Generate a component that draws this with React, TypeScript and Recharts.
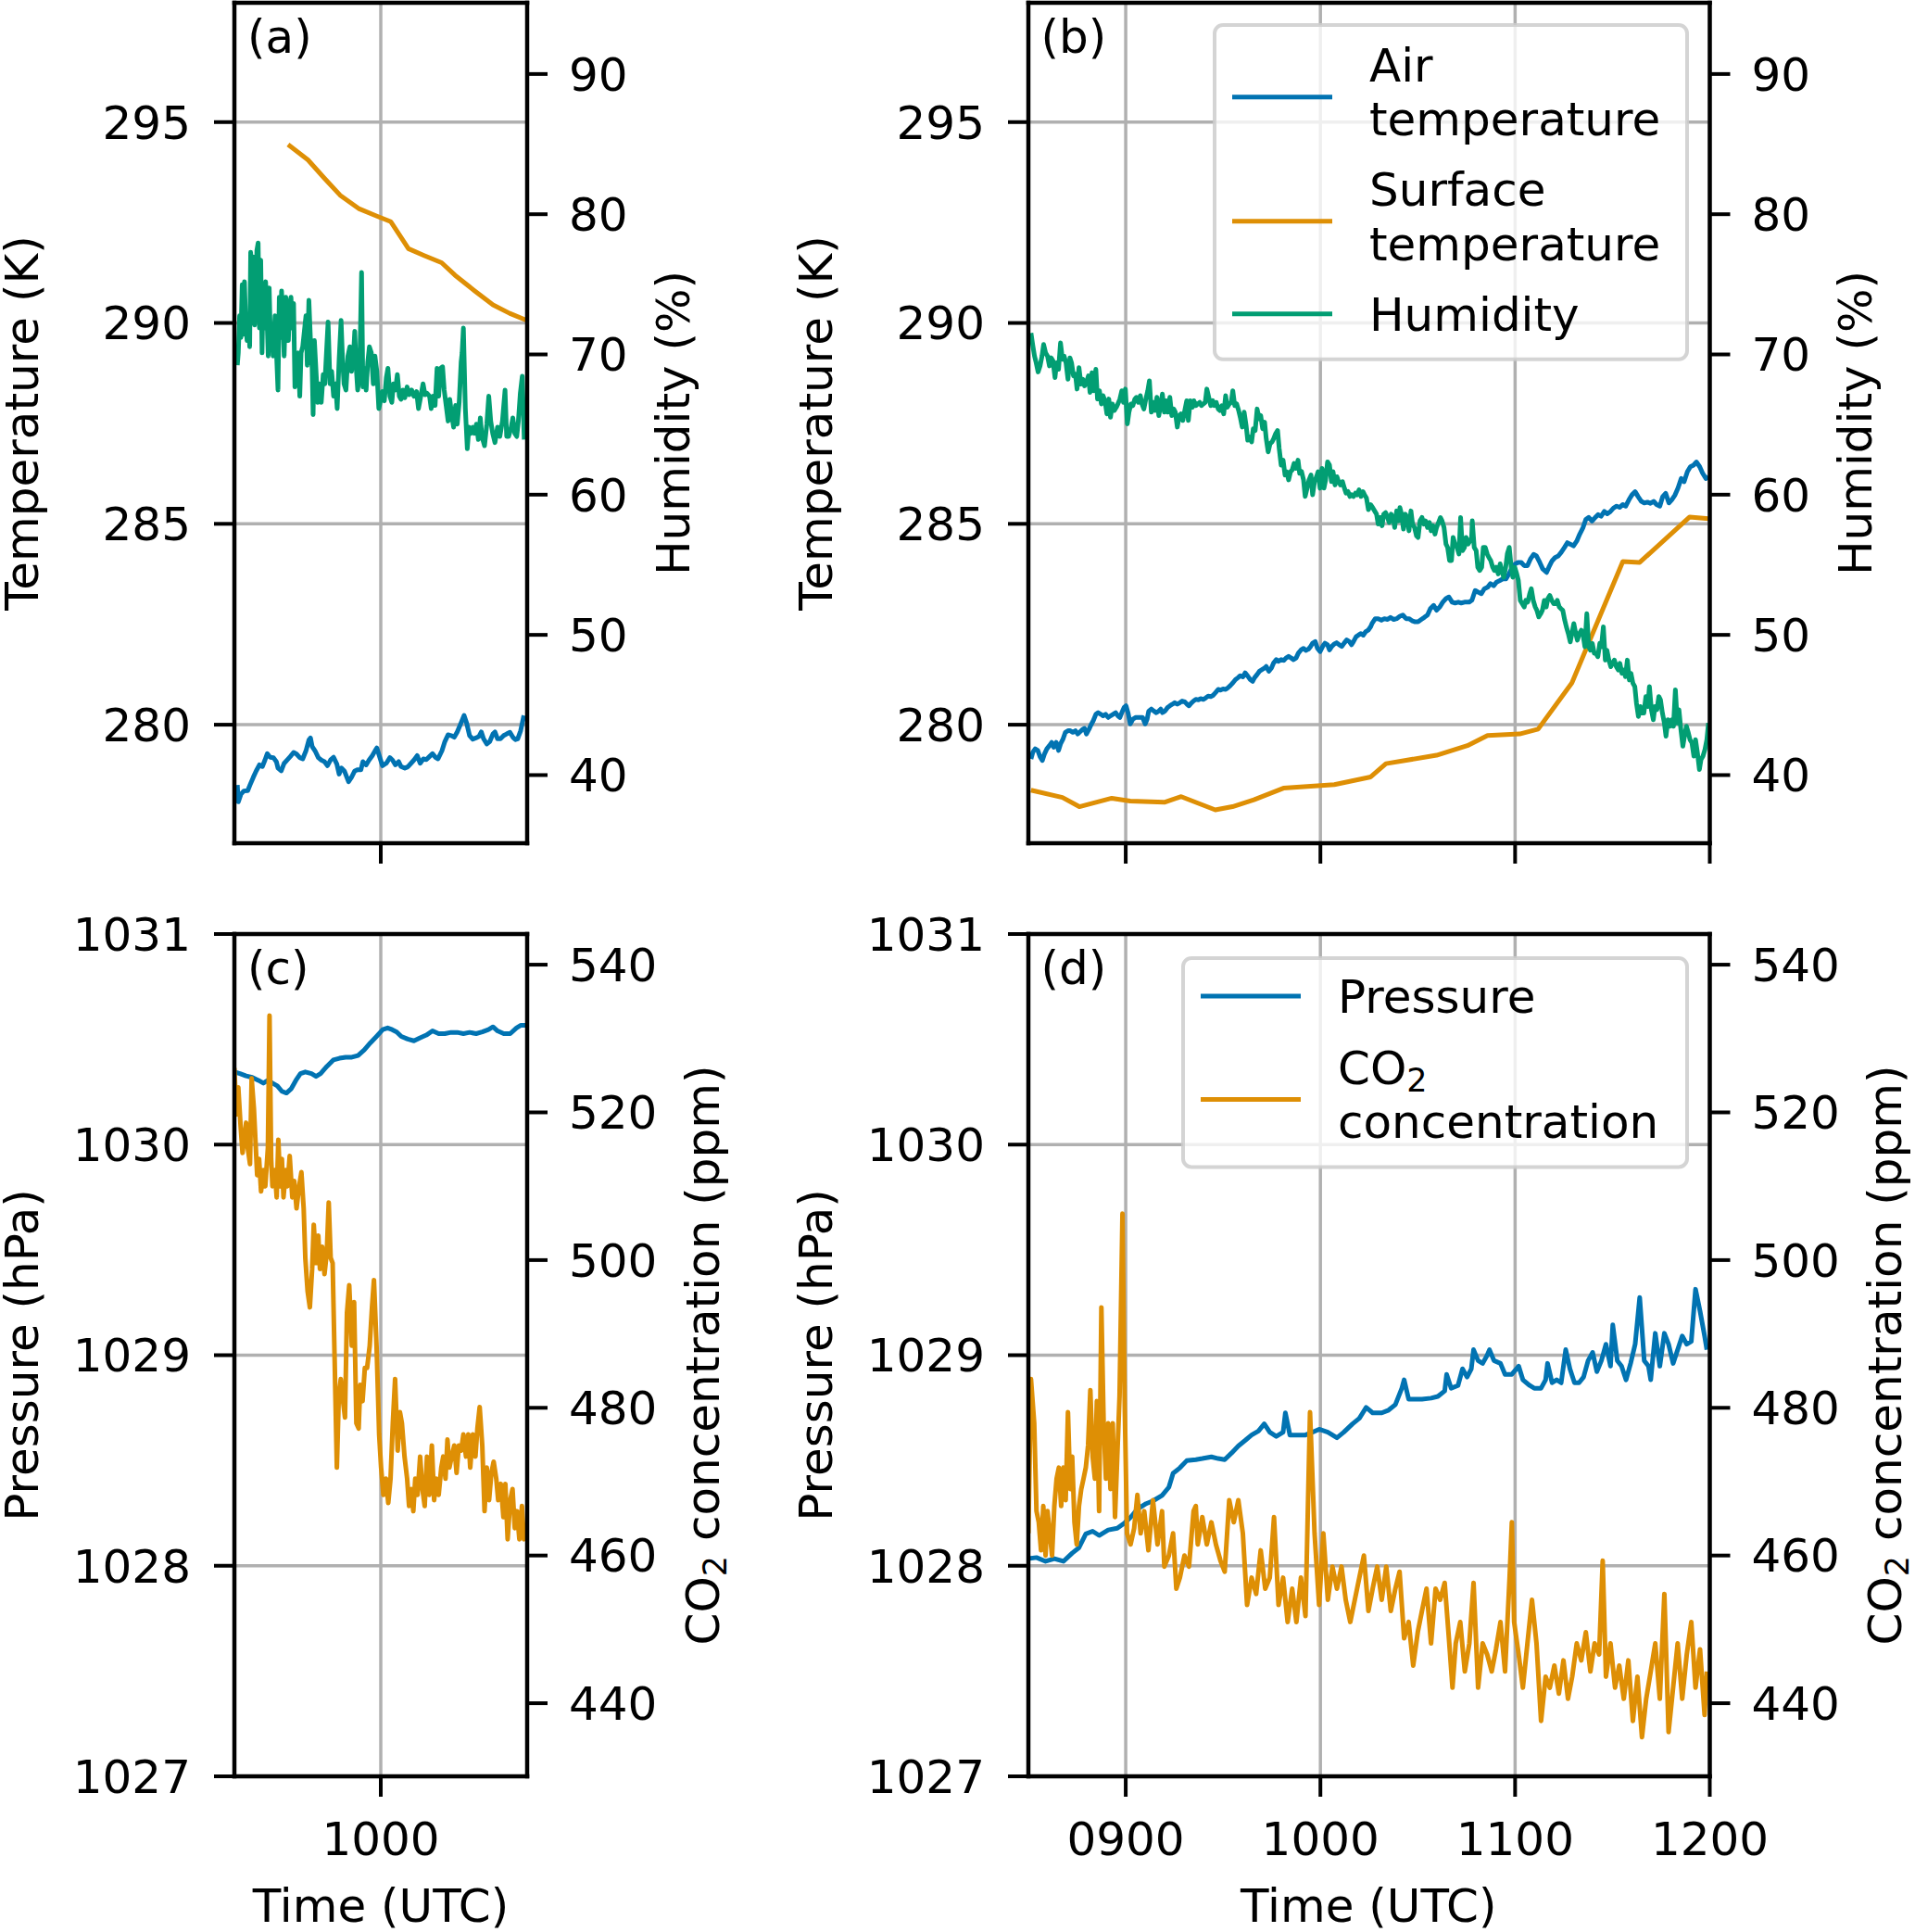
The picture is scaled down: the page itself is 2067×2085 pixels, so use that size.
import React from 'react';
import { LineChart, Line, XAxis, YAxis, CartesianGrid, ReferenceLine, Legend } from 'recharts';

const FONT = "'DejaVu Sans', 'Liberation Sans', sans-serif";
const BLUE = '#0173B2';
const ORANGE = '#DE8F05';
const GREEN = '#029E73';

// ---------- axis settings (time in minutes since midnight) ----------
const X_DOMAIN_LEFT = [555, 645];
const X_TICKS_LEFT = [600];
const X_DOMAIN_RIGHT = [510, 720];
const X_TICKS_RIGHT = [540, 600, 660, 720];
const TEMP_DOMAIN = [277.05, 297.97];
const TEMP_TICKS = [280, 285, 290, 295];
const HUM_DOMAIN = [35.14, 95.08];
const HUM_TICKS = [40, 50, 60, 70, 80, 90];
const PRES_DOMAIN = [1027, 1031];
const PRES_TICKS = [1027, 1028, 1029, 1030, 1031];
const CO2_DOMAIN = [430.1, 544.15];
const CO2_TICKS = [440, 460, 480, 500, 520, 540];

const LEGEND_B = [['Air', 'temperature'], ['Surface', 'temperature'], ['Humidity']];

// ---------- panel (a) ----------
const A_AIR_T = [
  555.9, 556.2, 557.0, 557.9, 559.1, 559.8, 560.8, 561.7, 562.7, 563.6,
  564.4, 565.1, 566.0, 567.0, 567.9, 568.4, 569.4, 570.3, 571.3, 572.2,
  573.2, 574.1, 575.1, 576.0, 577.0, 577.9, 578.4, 578.9, 579.8, 580.8,
  581.7, 582.7, 583.6, 584.6, 585.5, 586.5, 587.2, 587.9, 588.8, 590.1,
  591.0, 592.0, 592.9, 593.9, 594.5, 595.5, 596.4, 597.4, 598.3, 598.8,
  599.6, 600.5, 601.7, 602.8, 603.6, 604.5, 605.5, 606.2, 607.4, 608.3,
  609.3, 610.2, 611.2, 612.1, 613.1, 614.0, 615.0, 615.9, 616.9, 617.6,
  618.8, 619.7, 620.7, 621.6, 622.6, 623.5, 624.7, 625.6, 626.4, 627.3,
  628.3, 629.2, 630.2, 630.9, 631.6, 632.6, 633.5, 634.5, 635.1, 635.9,
  636.8, 637.8, 638.7, 639.7, 640.6, 641.4, 642.1, 643.0, 643.5, 644.0,
];
const A_AIR_V = [
  278.50, 278.08, 278.27, 278.35, 278.36, 278.50, 278.69, 278.85, 279.00, 278.96,
  279.12, 279.28, 279.19, 279.18, 279.08, 278.92, 278.85, 279.04, 279.13, 279.21,
  279.31, 279.27, 279.18, 279.15, 279.35, 279.62, 279.67, 279.46, 279.35, 279.18,
  279.12, 279.08, 278.98, 279.13, 279.19, 279.02, 278.77, 278.92, 278.85, 278.58,
  278.69, 278.85, 278.88, 278.88, 279.08, 279.00, 279.12, 279.23, 279.36, 279.42,
  279.21, 278.98, 279.04, 279.18, 279.12, 279.00, 279.08, 278.96, 278.92, 278.95,
  279.04, 279.12, 279.23, 279.04, 279.15, 279.13, 279.21, 279.28, 279.18, 279.15,
  279.35, 279.58, 279.75, 279.73, 279.69, 279.82, 280.05, 280.23, 280.04, 279.73,
  279.64, 279.67, 279.71, 279.82, 279.65, 279.52, 279.58, 279.77, 279.82, 279.65,
  279.65, 279.73, 279.77, 279.81, 279.69, 279.63, 279.65, 279.85, 280.04, 280.23,
];
const A_SURF_T = [571.5, 577.6, 582.7, 587.5, 593.4, 598.8, 603.1, 608.5, 613.3, 618.7, 622.8, 628.7, 634.5, 639.6, 644.7];
const A_SURF_V = [294.44, 294.06, 293.60, 293.18, 292.84, 292.66, 292.52, 291.85, 291.68, 291.50, 291.19, 290.81, 290.45, 290.24, 290.07];
const A_HUM_T = [
  555.9, 556.2, 556.6, 557.0, 557.4, 557.8, 558.1, 558.5, 558.9, 559.4,
  559.7, 560.0, 560.4, 560.8, 561.2, 561.6, 561.9, 562.3, 562.7, 563.1,
  563.5, 563.8, 564.2, 564.6, 565.0, 565.4, 565.7, 566.1, 566.5, 566.9,
  567.5, 567.9, 568.4, 568.8, 569.2, 569.5, 569.9, 570.3, 570.8, 571.3,
  571.6, 572.0, 572.4, 572.8, 573.2, 573.6, 574.1, 574.6, 575.1, 575.5,
  576.0, 576.5, 577.0, 577.4, 577.9, 578.4, 578.9, 579.2, 579.6, 580.0,
  580.6, 581.1, 581.7, 582.3, 582.8, 583.4, 583.8, 584.4, 584.9, 585.5,
  586.1, 586.6, 587.2, 587.8, 588.2, 588.7, 589.3, 589.9, 590.5, 591.0,
  591.6, 592.0, 592.4, 592.9, 593.5, 594.1, 594.5, 595.0, 595.5, 596.0,
  596.5, 597.1, 597.7, 598.2, 598.8, 599.4, 600.0, 600.5, 601.1, 601.7,
  602.2, 602.8, 603.4, 603.9, 604.5, 605.1, 605.7, 606.2, 606.8, 607.4,
  608.1, 608.8, 609.5, 610.2, 611.0, 611.6, 612.3, 613.0, 613.6, 614.2,
  615.0, 615.5, 616.1, 616.7, 617.3, 617.8, 618.4, 619.0, 619.5, 620.1,
  620.7, 621.2, 621.8, 622.4, 623.0, 623.5, 624.1, 624.7, 625.0, 625.4,
  626.0, 626.6, 627.1, 627.7, 628.3, 628.8, 629.4, 630.0, 630.6, 631.1,
  631.9, 632.6, 633.2, 633.8, 634.4, 635.1, 635.9, 636.6, 637.4, 638.2,
  638.7, 639.3, 640.1, 640.6, 641.2, 641.8, 642.3, 642.9, 643.5, 644.1,
];
const A_HUM_V = [
  69.23, 70.11, 72.76, 71.21, 74.97, 71.43, 75.19, 72.10, 70.99, 72.76,
  70.55, 77.28, 73.64, 76.95, 72.10, 73.64, 77.40, 77.95, 71.88, 76.73,
  70.11, 73.86, 71.88, 75.19, 72.76, 69.89, 74.75, 70.99, 72.10, 69.89,
  72.76, 70.33, 67.46, 74.08, 71.21, 74.53, 72.32, 69.89, 74.08, 72.32,
  70.99, 73.64, 74.08, 71.88, 73.64, 67.68, 69.45, 70.11, 67.02, 70.11,
  70.55, 71.66, 72.76, 69.23, 73.86, 70.99, 69.01, 65.70, 70.99, 69.23,
  66.58, 67.90, 66.58, 68.57, 67.90, 70.55, 72.32, 67.90, 68.79, 67.02,
  67.90, 66.14, 69.67, 72.43, 69.89, 67.90, 67.46, 69.89, 70.55, 68.79,
  69.89, 71.66, 69.23, 67.46, 68.79, 75.85, 67.68, 69.01, 67.46, 69.45,
  70.55, 70.11, 67.90, 69.89, 68.79, 66.14, 66.80, 67.35, 66.69, 68.34,
  69.01, 67.02, 66.58, 67.90, 67.46, 68.57, 67.02, 66.80, 67.46, 66.91,
  67.68, 67.13, 67.46, 67.02, 67.35, 66.14, 67.02, 67.90, 67.13, 67.24,
  67.02, 66.14, 67.02, 66.36, 69.01, 67.02, 69.01, 69.12, 67.46, 66.36,
  65.25, 66.80, 65.70, 64.81, 66.36, 65.03, 66.58, 69.45, 70.11, 71.88,
  66.14, 63.27, 64.81, 64.37, 64.81, 64.37, 65.03, 63.93, 65.47, 64.15,
  63.49, 65.03, 67.02, 65.25, 64.37, 63.71, 64.81, 64.15, 65.25, 67.46,
  64.15, 64.15, 64.81, 65.47, 64.37, 64.15, 65.25, 67.24, 68.45, 63.93,
];

// ---------- panel (b) ----------
const B_AIR_T = [
  510.8, 511.4, 512.1, 512.9, 513.6, 514.3, 515.0, 515.7, 516.5, 517.2,
  517.8, 518.6, 519.3, 519.9, 520.7, 521.4, 522.2, 522.9, 523.7, 524.5,
  525.2, 526.0, 526.8, 527.3, 527.9, 528.7, 529.2, 530.0, 530.8, 531.5,
  532.3, 533.0, 533.8, 534.6, 535.3, 536.1, 536.9, 537.6, 538.2, 538.8,
  539.5, 540.1, 540.7, 541.4, 542.2, 543.0, 543.7, 544.5, 545.2, 546.0,
  546.6, 547.1, 547.9, 548.7, 549.4, 550.2, 550.8, 551.3, 552.1, 552.9,
  553.6, 554.4, 555.1, 555.9, 556.7, 557.4, 558.2, 558.9, 559.5, 560.1,
  560.9, 561.6, 562.4, 563.1, 563.9, 564.7, 565.4, 566.2, 566.9, 567.7,
  568.5, 569.2, 570.0, 570.8, 571.5, 572.3, 573.0, 573.8, 574.6, 575.3,
  576.1, 576.8, 577.6, 578.4, 579.1, 579.7, 580.5, 581.2, 582.0, 582.8,
  583.3, 584.1, 584.9, 585.6, 586.4, 587.1, 587.9, 588.7, 589.4, 590.2,
  591.0, 591.7, 592.5, 593.2, 594.0, 594.8, 595.5, 596.3, 597.0, 597.6,
  598.4, 599.1, 599.9, 600.7, 601.4, 602.2, 602.8, 603.5, 604.3, 605.0,
  605.8, 606.6, 607.3, 608.1, 608.9, 609.6, 610.2, 611.0, 611.7, 612.5,
  613.2, 614.0, 614.8, 615.5,
  615.9, 616.9, 617.8, 618.8, 619.7, 620.7, 621.6, 622.6, 623.5, 624.5,
  625.4, 626.4, 627.3, 628.2, 629.2, 630.1, 631.1, 632.0, 633.0, 633.9,
  634.9, 635.8, 636.8, 637.7, 638.7, 639.6, 640.6, 641.5, 642.5, 643.4,
  644.4, 645.8, 646.7, 647.7, 648.6, 649.6, 650.5, 651.5, 652.4, 653.4,
  654.3, 655.3, 656.2, 657.2, 658.1, 659.1, 660.0, 660.9, 661.9, 662.8,
  663.8, 664.7, 665.7, 666.6, 667.6, 668.5, 669.7, 670.4, 671.4, 672.3,
  673.3, 674.2, 675.2, 676.1, 677.1, 678.0, 679.0, 679.9, 680.9, 681.8,
  682.7, 683.7, 684.6, 685.6, 686.5, 687.5, 688.4, 689.4, 690.3, 691.3,
  692.2, 693.2, 694.1, 695.1, 696.0, 697.0, 697.9, 698.9, 699.8, 700.8,
  701.7, 702.7, 703.6, 704.6, 705.5, 706.4, 707.4, 708.3, 709.3, 710.2,
  711.2, 712.1, 713.1, 714.0, 715.0, 715.9, 716.9, 717.8, 718.8, 719.6,
];
const B_AIR_V = [
  279.15, 279.32, 279.40, 279.36, 279.20, 279.11, 279.28, 279.40, 279.48, 279.56,
  279.44, 279.56, 279.36, 279.52, 279.65, 279.81, 279.85, 279.85, 279.81, 279.85,
  279.77, 279.83, 279.89, 279.91, 279.77, 279.89, 279.98, 280.10, 280.26, 280.30,
  280.26, 280.22, 280.26, 280.18, 280.22, 280.26, 280.30, 280.22, 280.18, 280.30,
  280.43, 280.47, 280.30, 280.02, 280.14, 280.18, 280.18, 280.18, 280.18, 280.02,
  280.14, 280.34, 280.39, 280.34, 280.30, 280.34, 280.39, 280.30, 280.34, 280.43,
  280.47, 280.51, 280.55, 280.51, 280.55, 280.59, 280.57, 280.51, 280.47, 280.53,
  280.59, 280.63, 280.62, 280.65, 280.63, 280.67, 280.71, 280.70, 280.73, 280.80,
  280.88, 280.86, 280.89, 280.88, 280.92, 280.98, 281.04, 281.12, 281.17, 281.22,
  281.19, 281.29, 281.21, 281.12, 281.08, 281.17, 281.25, 281.33, 281.37, 281.41,
  281.45, 281.33, 281.41, 281.54, 281.62, 281.58, 281.62, 281.60, 281.66, 281.70,
  281.66, 281.62, 281.66, 281.78, 281.86, 281.90, 281.85, 281.88, 281.95, 282.03,
  282.07, 281.90, 281.82, 281.95, 282.03, 281.99, 281.86, 281.95, 282.01, 282.04,
  281.99, 281.95, 282.03, 282.11, 282.07, 281.99, 282.07, 282.19, 282.23, 282.27,
  282.23, 282.32, 282.36, 282.44,
  282.52, 282.64, 282.64, 282.60, 282.64, 282.62, 282.67, 282.62, 282.64, 282.70,
  282.73, 282.64, 282.64, 282.59, 282.56, 282.56, 282.62, 282.67, 282.73, 282.89,
  282.97, 282.85, 282.93, 283.05, 283.14, 283.18, 283.05, 283.03, 283.05, 283.03,
  283.05, 283.05, 283.10, 283.34, 283.30, 283.26, 283.38, 283.42, 283.51, 283.46,
  283.55, 283.59, 283.63, 283.63, 283.75, 283.92, 284.00, 284.04, 284.04, 283.96,
  283.96, 284.12, 284.24, 284.20, 284.04, 283.88, 283.79, 283.92, 284.08, 284.16,
  284.20, 284.29, 284.41, 284.53, 284.49, 284.45, 284.57, 284.74, 284.90, 285.11,
  285.16, 285.07, 285.15, 285.23, 285.19, 285.31, 285.25, 285.31, 285.39, 285.44,
  285.41, 285.48, 285.44, 285.60, 285.72, 285.80, 285.68, 285.56, 285.52, 285.54,
  285.51, 285.56, 285.48, 285.44, 285.68, 285.76, 285.52, 285.60, 285.72, 285.89,
  286.13, 286.05, 286.30, 286.42, 286.46, 286.54, 286.42, 286.26, 286.13, 286.17,
];
const B_SURF_T = [510.8, 520.5, 525.7, 535.7, 541.4, 551.9, 557.1, 567.6, 572.9, 579.5, 588.6, 604.3, 615.5, 620.2, 635.8, 645.3, 651.5, 661.4, 667.1, 677.5, 693.2, 698.4, 713.8, 719.6];
const B_SURF_V = [278.37, 278.19, 277.96, 278.17, 278.10, 278.07, 278.21, 277.88, 277.96, 278.13, 278.42, 278.51, 278.70, 279.03, 279.24, 279.48, 279.73, 279.77, 279.89, 281.04, 284.06, 284.04, 285.17, 285.13];
const B_HUM_T = [
  510.8, 511.4, 511.9, 512.4, 513.0, 513.6, 514.2, 514.7, 515.3, 515.9,
  516.5, 517.0, 517.6, 518.2, 518.7, 519.3, 519.9, 520.5, 521.0, 521.6,
  522.2, 522.8, 523.3, 523.9, 524.5, 525.0, 525.6, 526.2, 526.8, 527.3,
  527.9, 528.5, 529.0, 529.6, 530.2, 530.8, 531.3, 531.9, 532.5, 533.0,
  533.6, 534.2, 534.8, 535.3, 535.9, 536.5, 537.1, 537.6, 538.2, 538.8,
  539.3, 539.9, 540.5, 541.0, 541.6, 542.2, 542.8, 543.3, 543.9, 544.5,
  545.0, 545.6, 546.2, 546.8, 547.3, 547.9, 548.5, 549.0, 549.6, 550.2,
  550.8, 551.3, 551.9, 552.5, 553.0, 553.6, 554.2, 554.8, 555.3, 555.9,
  556.5, 557.0, 557.6, 558.2, 558.8, 559.3, 559.9, 560.5, 561.0, 561.6,
  562.2, 562.8, 563.3, 563.9, 564.5, 565.0, 565.6, 566.2, 566.8, 567.3,
  567.9, 568.5, 569.0, 569.6, 570.2, 570.8, 571.3, 571.9, 572.5, 573.0,
  573.6, 574.2, 574.8, 575.3, 575.9, 576.5, 577.1, 577.6, 578.2, 578.8,
  579.3, 579.9, 580.5, 581.1, 581.6, 582.2, 582.8, 583.3, 583.9, 584.5,
  585.1, 585.6, 586.2, 586.8, 587.3, 587.9, 588.5, 589.1, 589.6, 590.2,
  590.8, 591.3, 591.9, 592.5, 593.1, 593.6, 594.2, 594.8, 595.3, 595.9,
  596.5, 597.1, 597.6, 598.2, 598.8, 599.3, 599.9, 600.5, 601.1, 601.6,
  602.2, 602.8, 603.4, 603.9, 604.5, 605.1, 605.6, 606.2, 606.8, 607.4,
  607.9, 608.5, 609.1, 609.6, 610.2, 610.8, 611.3, 611.9, 612.5, 613.1,
  613.6, 614.2, 614.8, 615.5,
  616.1, 616.7, 617.3, 617.8, 618.4, 619.0, 619.5, 620.1, 620.7, 621.2,
  621.8, 622.4, 622.9, 623.5, 624.1, 624.5, 625.0, 625.6, 626.2, 626.7,
  627.3, 627.9, 628.4, 629.0, 629.6, 630.1, 630.7, 631.3, 631.9, 632.4,
  633.0, 633.6, 634.1, 634.7, 635.3, 635.8, 636.4, 637.0, 637.5, 638.1,
  638.7, 639.2, 639.8, 640.4, 640.9, 641.5, 642.1, 642.7, 643.2, 643.8,
  644.4, 644.9, 645.5, 646.1, 646.6, 646.8, 647.4, 648.0, 648.5, 649.1,
  649.7, 650.2, 650.8, 651.4, 651.9, 652.5, 653.1, 653.6, 654.2, 654.8,
  655.4, 655.9, 656.5, 657.1, 657.6, 658.2, 658.8, 659.3, 659.9, 660.5,
  661.0, 661.6, 662.2, 662.8, 663.3, 663.9, 664.5, 665.0, 665.6, 666.2,
  666.7, 667.3, 667.9, 668.4, 669.0, 669.6, 670.1, 670.7, 671.3, 671.9,
  672.4, 673.0, 673.6, 674.1, 674.7, 675.3, 675.8, 676.4, 677.0, 677.5,
  678.1, 678.7, 679.2, 679.8, 680.4, 680.9, 681.5, 682.1, 682.7, 683.2,
  683.8, 684.4, 684.9, 685.5, 686.1, 686.6, 687.2, 687.8, 688.3, 688.9,
  689.5, 690.0, 690.6, 691.2, 691.8, 692.3, 692.9, 693.5, 694.0, 694.6,
  695.2, 695.7, 696.3, 696.9, 697.4, 698.0, 698.6, 699.2, 699.7, 700.3,
  700.9, 701.4, 702.0, 702.6, 703.1, 703.7, 704.3, 704.8, 705.4, 706.0,
  706.5, 707.1, 707.7, 708.3, 708.8, 709.4, 710.0, 710.5, 711.1, 711.7,
  712.2, 712.8, 713.4, 713.9, 714.5, 715.1, 715.6, 716.2, 716.8, 717.3,
  717.9, 718.5, 719.1, 719.6,
];
const B_HUM_V = [
  71.53, 70.59, 69.88, 69.41, 68.75, 69.18, 69.88, 70.71, 70.12, 69.88,
  69.18, 69.76, 69.53, 68.35, 69.41, 68.94, 70.82, 69.65, 69.88, 69.41,
  68.23, 69.76, 69.41, 68.47, 68.59, 67.53, 69.06, 67.88, 68.23, 67.76,
  68.00, 68.47, 67.29, 68.70, 67.41, 68.94, 66.82, 67.41, 66.47, 67.06,
  66.70, 65.76, 66.82, 65.52, 66.47, 66.00, 66.23, 66.47, 66.82, 67.41,
  66.58, 67.53, 65.05, 65.88, 66.47, 66.35, 66.82, 66.94, 66.58, 67.06,
  66.47, 66.11, 66.82, 67.41, 68.12, 65.88, 66.58, 66.00, 66.94, 65.64,
  66.47, 67.17, 65.88, 66.70, 65.88, 66.94, 65.64, 66.11, 65.88, 64.82,
  65.64, 65.76, 65.29, 66.00, 66.70, 65.29, 66.70, 66.23, 66.70, 66.35,
  66.47, 66.58, 66.35, 66.47, 66.58, 67.53, 66.94, 66.35, 66.70, 66.35,
  66.58, 66.11, 66.00, 66.35, 65.76, 67.06, 66.23, 66.47, 66.58, 67.41,
  66.35, 66.47, 66.00, 65.52, 64.82, 65.88, 64.94, 63.88, 64.11, 63.76,
  64.70, 64.58, 66.11, 65.41, 65.64, 64.70, 65.17, 63.99, 63.05, 63.64,
  63.76, 63.99, 64.35, 64.58, 63.29, 62.11, 62.46, 61.40, 61.64, 61.05,
  61.64, 61.76, 62.23, 61.87, 62.46, 61.52, 61.64, 61.05, 59.87, 60.46,
  61.05, 61.40, 59.99, 60.93, 61.28, 61.64, 60.46, 61.87, 60.46, 61.05,
  62.34, 62.11, 60.93, 61.64, 60.69, 61.28, 60.93, 60.69, 60.93, 60.46,
  60.11, 60.22, 59.87, 59.99, 59.87, 60.11, 59.99, 60.34, 59.87, 60.22,
  59.99, 59.75, 58.93, 59.28,
  59.08, 58.84, 58.61, 57.90, 58.37, 57.78, 58.61, 58.72, 58.37, 58.01,
  58.61, 58.37, 57.66, 58.84, 58.13, 59.08, 58.61, 57.54, 58.61, 58.37,
  57.42, 58.84, 57.90, 57.66, 57.07, 56.95, 58.13, 58.37, 57.90, 58.13,
  57.66, 58.01, 57.42, 57.78, 57.19, 57.66, 58.01, 58.37, 58.13, 57.66,
  56.48, 56.24, 55.30, 55.30, 56.95, 56.48, 56.24, 55.77, 58.37, 56.00,
  56.24, 56.95, 56.48, 56.71, 56.95, 58.13, 56.24, 56.00, 54.82, 54.59,
  54.82, 56.24, 56.24, 55.77, 55.53, 55.30, 54.82, 54.59, 54.82, 54.35,
  55.06, 54.59, 54.11, 54.82, 55.77, 56.24, 54.82, 54.11, 54.82, 54.35,
  53.88, 52.46, 52.22, 51.99, 52.46, 52.34, 52.93, 53.29, 52.46, 51.99,
  51.75, 51.28, 51.51, 51.75, 52.46, 51.99, 52.58, 52.81, 52.46, 52.22,
  52.22, 52.46, 51.99, 51.87, 51.75, 51.04, 50.57, 50.09, 49.50, 50.09,
  50.80, 50.09, 49.62, 50.09, 50.33, 50.09, 49.15, 51.51, 49.15, 48.91,
  49.39, 48.68, 48.68, 48.44, 49.39, 49.15, 50.57, 48.20, 48.91, 48.20,
  47.73, 47.97, 48.20, 47.73, 47.49, 47.97, 47.26, 47.49, 47.02, 48.20,
  46.78, 47.26, 46.55, 46.31, 45.13, 44.18, 44.89, 44.42, 44.42, 45.60,
  44.89, 46.31, 44.66, 43.95, 44.89, 44.66, 45.60, 45.37, 44.42, 43.71,
  42.77, 43.95, 43.48, 43.95, 43.48, 46.08, 43.71, 44.66, 43.24, 42.06,
  42.77, 43.48, 43.00, 42.53, 42.29, 41.35, 42.53, 41.58, 40.40, 41.11,
  41.35, 41.82, 42.53, 43.71,
];

// ---------- panel (c) ----------
const C_PRES_T = [
  555.0, 556.7, 558.6, 560.5, 562.4, 563.9, 565.3, 566.7, 568.2, 569.6,
  571.0, 572.5, 573.9, 575.3, 576.8, 578.7, 580.1, 581.5, 583.4, 585.4,
  587.3, 589.2, 591.1, 593.0, 594.9, 596.8, 598.7, 600.6, 602.1, 603.5,
  604.9, 606.3, 608.3, 610.2, 612.1, 614.0, 615.9, 617.8, 619.7, 621.6,
  623.5, 625.4, 627.3, 629.3, 631.2, 633.1, 634.5, 635.9, 637.8, 639.8,
  641.7, 643.1, 645.0,
];
const C_PRES_V = [
  1030.345, 1030.337, 1030.326, 1030.319, 1030.305, 1030.292, 1030.305, 1030.292, 1030.279, 1030.253,
  1030.245, 1030.266, 1030.305, 1030.337, 1030.345, 1030.337, 1030.324, 1030.337, 1030.371, 1030.402,
  1030.410, 1030.415, 1030.415, 1030.423, 1030.449, 1030.483, 1030.514, 1030.546, 1030.554, 1030.546,
  1030.535, 1030.514, 1030.501, 1030.493, 1030.507, 1030.520, 1030.540, 1030.527, 1030.527, 1030.533,
  1030.533, 1030.527, 1030.533, 1030.527, 1030.535, 1030.546, 1030.559, 1030.540, 1030.527, 1030.527,
  1030.554, 1030.567, 1030.567,
];
const C_CO2_T = [
  555.0, 555.6, 556.2, 556.9, 557.5, 558.1, 558.6, 559.1, 559.8, 560.3,
  561.0, 561.5, 562.0, 562.6, 563.2, 563.9, 564.5, 565.3, 565.8, 566.3,
  566.7, 567.4, 568.0, 568.5, 569.1, 569.6, 570.1, 570.8, 571.3, 572.0,
  572.8, 573.4, 574.1, 574.9, 575.6, 576.3, 576.8, 577.5, 578.2, 578.9,
  579.4, 580.1, 580.8, 581.3, 582.0, 582.7, 583.4, 584.0, 584.6, 585.2,
  585.8, 586.5, 587.1, 587.7, 588.4, 589.0, 589.6, 590.3, 591.1, 591.8,
  592.5, 593.2, 593.7, 594.4, 595.1, 595.8, 596.6, 597.3, 597.9, 598.7,
  599.5, 600.1, 600.8, 601.6, 602.3, 603.0, 603.7, 604.4, 605.2, 605.9,
  606.5, 607.3, 608.1, 608.7, 609.4, 610.0, 610.6, 611.3, 612.1, 612.8,
  613.5, 614.2, 614.9, 615.7, 616.4, 617.0, 617.8, 618.6, 619.2, 619.9,
  620.5, 621.1, 621.8, 622.6, 623.3, 624.0, 624.7, 625.4, 626.2, 626.9,
  627.5, 628.3, 629.1, 629.7, 630.4, 631.2, 631.9, 632.6, 633.3, 634.0,
  634.7, 635.5, 636.1, 636.9, 637.7, 638.3, 639.0, 639.8, 640.5, 641.2,
  641.9, 642.6, 643.4, 644.0, 645.0,
];
const C_CO2_V = [
  526.0, 519.7, 523.4, 518.2, 514.5, 516.7, 518.6, 515.2, 513.0, 524.6,
  520.5, 516.0, 511.5, 513.7, 509.3, 512.2, 510.0, 515.2, 533.1, 513.7,
  510.0, 512.2, 508.5, 516.3, 510.0, 513.7, 508.5, 512.2, 510.0, 514.1,
  508.5, 510.7, 507.0, 510.0, 511.9, 507.0, 500.3, 495.8, 493.6, 498.8,
  504.8, 499.6, 503.3, 498.8, 501.8, 498.1, 501.0, 507.8, 500.3, 499.6,
  486.9, 471.9, 481.6, 483.9, 480.9, 478.7, 492.8, 496.6, 488.4, 494.3,
  477.9, 477.2, 483.1, 480.9, 485.4, 485.4, 488.4, 493.6, 497.3, 488.4,
  476.4, 471.9, 468.2, 470.4, 467.1, 470.4, 477.9, 483.9, 474.2, 479.4,
  477.9, 473.4, 470.4, 466.7, 469.0, 466.0, 470.4, 468.2, 473.4, 469.0,
  466.7, 473.4, 468.2, 474.9, 467.5, 470.4, 468.2, 471.9, 473.4, 470.4,
  475.7, 471.9, 473.4, 474.9, 471.2, 474.9, 474.2, 476.4, 473.4, 476.4,
  471.9, 476.4, 473.4, 477.2, 480.1, 474.9, 466.0, 471.9, 467.5, 471.2,
  472.7, 470.4, 467.5, 469.7, 465.2, 469.7, 462.2, 467.5, 469.0, 463.7,
  466.0, 462.2, 466.7, 462.2, 463.7,
];

// ---------- panel (d) ----------
const D_PRES_T = [
  510.0, 512.5, 515.3, 518.0, 520.8, 523.5, 525.6, 527.7, 529.8, 531.8,
  534.6, 537.4, 539.7, 541.5, 543.6, 546.3, 548.4, 551.2, 553.3, 554.6,
  556.7, 558.8, 561.6, 563.6, 566.4, 568.5, 570.5, 572.6, 574.7, 576.8,
  578.8, 580.9, 582.7, 584.4, 586.4, 588.5, 589.2, 590.6, 592.6, 595.4,
  597.5, 599.6, 602.3, 605.1, 607.2, 609.9, 612.0, 614.1, 616.1, 618.9,
  621.0, 623.1, 625.1, 625.8, 627.2, 629.3, 631.3, 634.1, 636.2, 638.3,
  638.9, 640.3, 642.4, 643.8, 645.2, 646.5, 647.2, 648.6, 650.0, 651.4,
  652.1, 653.5, 655.5, 656.9, 659.0, 661.1, 662.4, 664.5, 665.9, 668.0,
  669.4, 670.0, 671.4, 672.8, 674.2, 675.6, 676.9, 678.3, 679.7, 681.1,
  682.5, 683.9, 685.2, 686.6, 688.0, 689.4, 690.1, 691.5, 692.8, 694.2,
  695.6, 697.0, 698.4, 699.8, 701.1, 701.8, 703.2, 704.6, 706.0, 707.3,
  708.7, 710.1, 711.5, 712.9, 714.3, 715.6, 717.0, 718.4, 719.1,
];
const D_PRES_V = [
  1028.034, 1028.039, 1028.021, 1028.034, 1028.021, 1028.060, 1028.086, 1028.151, 1028.164, 1028.144,
  1028.170, 1028.178, 1028.204, 1028.230, 1028.269, 1028.295, 1028.308, 1028.334, 1028.373, 1028.439,
  1028.465, 1028.499, 1028.504, 1028.509, 1028.517, 1028.509, 1028.504, 1028.535, 1028.569, 1028.595,
  1028.621, 1028.640, 1028.674, 1028.634, 1028.614, 1028.634, 1028.726, 1028.621, 1028.621, 1028.621,
  1028.634, 1028.648, 1028.634, 1028.608, 1028.634, 1028.674, 1028.700, 1028.752, 1028.726, 1028.726,
  1028.739, 1028.765, 1028.843, 1028.883, 1028.791, 1028.791, 1028.791, 1028.796, 1028.804, 1028.830,
  1028.909, 1028.843, 1028.856, 1028.935, 1028.896, 1028.935, 1029.026, 1028.974, 1028.961, 1029.000,
  1029.026, 1028.974, 1028.961, 1028.909, 1028.909, 1028.948, 1028.883, 1028.856, 1028.843, 1028.843,
  1028.883, 1028.961, 1028.869, 1028.883, 1028.869, 1029.026, 1028.935, 1028.869, 1028.869, 1028.896,
  1028.974, 1029.013, 1028.922, 1028.974, 1029.052, 1028.948, 1029.144, 1028.974, 1028.948, 1028.883,
  1028.961, 1029.052, 1029.274, 1028.974, 1028.948, 1028.883, 1029.104, 1028.948, 1029.104, 1029.052,
  1028.961, 1029.026, 1029.091, 1029.052, 1029.065, 1029.313, 1029.209, 1029.091, 1029.026,
];
const D_CO2_T = [
  510.0, 510.8, 511.8, 512.5, 513.2, 513.9, 514.6, 515.3, 515.9, 516.6,
  517.3, 518.0, 518.7, 519.4, 520.1, 520.8, 521.5, 522.2, 522.9, 523.5,
  524.2, 524.9, 525.6, 526.3, 527.0, 527.7, 528.4, 529.1, 529.8, 530.5,
  531.1, 531.8, 532.5, 533.2, 533.9, 534.6, 535.3, 536.0, 536.7, 537.4,
  538.1, 539.0, 539.7, 540.4, 541.5, 542.6, 543.6, 544.6, 545.7, 547.0,
  548.4, 549.8, 551.2, 551.9, 553.3, 554.6, 555.6, 556.7, 558.1, 559.5,
  560.9, 561.6, 562.2, 563.6, 565.0, 566.4, 567.8, 569.2, 570.5, 571.9,
  573.3, 574.7, 576.1, 577.4, 578.8, 580.2, 581.6, 583.0, 584.4, 585.7,
  587.1, 588.5, 589.9, 591.3, 592.6, 594.0, 595.4, 596.8, 598.2, 599.6,
  600.9, 602.3, 603.7, 605.1, 606.5, 607.8, 609.2, 610.6, 612.0, 613.4,
  614.8, 616.1, 617.5, 618.9, 620.3, 621.7, 623.1, 624.4, 625.8, 627.2,
  628.6, 630.0, 631.3, 632.7, 634.1, 635.5, 636.9, 638.3, 639.6, 640.7,
  641.7, 643.1, 644.5, 645.9, 647.2, 648.6, 650.0, 651.4, 652.8, 654.1,
  655.5, 656.9, 658.3, 659.0, 659.7, 661.1, 662.4, 663.8, 665.2, 666.6,
  668.0, 669.4, 670.7, 672.1, 673.5, 674.9, 676.3, 677.6, 679.0, 680.4,
  681.8, 683.2, 684.5, 685.9, 687.0, 688.0, 689.4, 690.8, 692.1, 693.5,
  694.9, 696.3, 697.7, 699.1, 700.4, 701.8, 703.2, 704.6, 706.0, 707.3,
  708.7, 710.1, 711.5, 712.9, 714.3, 715.6, 717.0, 718.4, 719.1,
];
const D_CO2_V = [
  463.0, 483.9, 477.9, 466.0, 464.5, 460.7, 466.7, 460.0, 466.0, 463.0,
  460.0, 466.7, 470.4, 471.9, 466.7, 471.9, 467.5, 479.4, 469.0, 473.4,
  464.5, 461.5, 466.7, 469.0, 470.4, 471.9, 474.9, 482.4, 473.4, 470.4,
  480.9, 466.0, 493.6, 477.9, 470.4, 477.9, 469.0, 477.9, 465.2, 473.4,
  481.6, 506.3, 480.1, 463.0, 461.5, 463.7, 468.2, 463.0, 466.0, 460.7,
  467.5, 461.5, 466.0, 458.5, 460.0, 463.0, 455.5, 457.0, 460.0, 458.5,
  466.0, 466.7, 461.5, 465.2, 461.5, 464.5, 461.5, 459.3, 457.8, 467.5,
  464.5, 467.5, 463.0, 453.3, 457.0, 454.8, 460.7, 455.5, 457.0, 465.2,
  453.3, 457.0, 451.0, 455.5, 451.0, 457.0, 451.8, 479.4, 463.0, 453.3,
  463.0, 454.0, 458.5, 455.5, 458.5, 454.0, 451.0, 454.0, 457.0, 460.0,
  452.5, 455.5, 458.5, 454.0, 458.5, 452.5, 455.5, 457.8, 448.8, 451.0,
  445.1, 449.6, 452.5, 455.5, 448.1, 455.5, 454.0, 456.3, 448.8, 442.1,
  448.1, 451.0, 444.3, 448.1, 456.3, 442.1, 448.1, 446.6, 444.3, 447.3,
  451.0, 444.3, 457.0, 464.5, 451.0, 446.6, 442.1, 448.1, 454.0, 448.1,
  437.6, 443.6, 442.1, 445.1, 441.3, 445.8, 440.6, 443.6, 448.1, 445.8,
  449.6, 444.3, 448.1, 446.6, 459.3, 443.6, 448.1, 442.1, 445.1, 440.6,
  445.8, 437.6, 443.6, 435.4, 440.6, 444.3, 448.1, 440.6, 454.8, 436.1,
  442.1, 448.1, 440.6, 446.6, 451.0, 442.1, 447.3, 438.4, 444.3,
];

// ---------- helpers ----------
type Pt = { t: number; v: number };
const zip = (t: number[], v: number[]): Pt[] => {
  const n = Math.min(t.length, v.length);
  const out: Pt[] = [];
  for (let i = 0; i < n; i++) out.push({ t: t[i], v: v[i] });
  return out;
};
const hhmm = (m: number) => {
  const h = Math.floor(m / 60 + 1e-9);
  const mm = Math.round(m - h * 60);
  return String(h).padStart(2, '0') + String(mm).padStart(2, '0');
};

// ---------- layout (pixels) ----------
const COLS = { L: { x0: 253, x1: 569 }, R: { x0: 1109.5, x1: 1845 } };
const ROWS = { T: { y0: 3, y1: 910 }, B: { y0: 1008, y1: 1917 } };
const AXW = 230;
const XH = 110;
const SPINE = 4.5;
const LW = 5;

const tickStyle = { fontSize: 50, fontFamily: FONT, fill: '#000' };

type Series = { data: Pt[]; color: string; axis: 'left' | 'right'; name: string };

type LegendItem = { color: string; lines: React.ReactNode[]; y: number; baselines: number[] };

function LegendBox({ w, h, items }: { w: number; h: number; items: LegendItem[] }) {
  const P = 4;
  return (
    <svg width={w + 2 * P} height={h + 2 * P} style={{ display: 'block', overflow: 'visible' }}>
      <rect x={P} y={P} width={w} height={h} rx={9} ry={9} fill="#ffffff" fillOpacity={0.8}
        stroke="#cccccc" strokeOpacity={0.85} strokeWidth={4} />
      {items.map((it, i) => (
        <g key={i}>
          <line x1={P + 19} x2={P + 127} y1={P + it.y} y2={P + it.y} stroke={it.color} strokeWidth={LW} />
          {it.lines.map((ln, j) => (
            <text key={j} x={P + 167} y={P + it.baselines[j]} fontSize={50} fontFamily={FONT} fill="#000">{ln}</text>
          ))}
        </g>
      ))}
    </svg>
  );
}

type PanelProps = {
  col: { x0: number; x1: number };
  row: { y0: number; y1: number };
  xDomain: number[];
  xTicks: number[];
  showX: boolean;
  lDomain: number[];
  lTicks: number[];
  rDomain: number[];
  rTicks: number[];
  series: Series[];
  legend?: { x: number; y: number; w: number; h: number; items: LegendItem[] };
};

function Panel({ col, row, xDomain, xTicks, showX, lDomain, lTicks, rDomain, rTicks, series, legend }: PanelProps) {
  const mt = Math.min(45, row.y0);
  const top = row.y0 - mt;
  const left = col.x0 - AXW - 10;
  const width = col.x1 + AXW + 10 - left;
  const height = row.y1 + XH + 10 - top;
  const axisLine = { stroke: '#000', strokeWidth: SPINE, strokeLinecap: 'square' as const };
  const tickLine = { stroke: '#000', strokeWidth: 4 };
  return (
    <div style={{ position: 'absolute', left, top, width, height }}>
      <LineChart width={width} height={height} margin={{ top: mt, left: 10, right: 10, bottom: 10 }}>
        <CartesianGrid xAxisId={0} yAxisId="left" stroke="#b0b0b0" strokeWidth={3.5} />
        <XAxis xAxisId={0} dataKey="t" type="number" domain={xDomain} ticks={xTicks} interval={0}
          allowDataOverflow height={XH} tickSize={22} tickMargin={27}
          tickFormatter={(v: number) => (showX ? hhmm(v) : '')}
          tick={tickStyle} axisLine={axisLine} tickLine={tickLine} />
        <YAxis yAxisId="left" type="number" domain={lDomain} ticks={lTicks} interval={0}
          allowDataOverflow width={AXW} tickSize={22} tickMargin={25}
          tick={tickStyle} axisLine={axisLine} tickLine={tickLine} />
        <YAxis yAxisId="right" orientation="right" type="number" domain={rDomain} ticks={rTicks} interval={0}
          allowDataOverflow width={AXW} tickSize={22} tickMargin={23}
          tick={tickStyle} axisLine={axisLine} tickLine={tickLine} />
        {series.map((s) => (
          <Line key={s.name} name={s.name} data={s.data} dataKey="v" xAxisId={0} yAxisId={s.axis}
            type="linear" stroke={s.color} strokeWidth={LW} dot={false} activeDot={false}
            isAnimationActive={false} strokeLinejoin="round" />
        ))}
        <ReferenceLine xAxisId={0} yAxisId="left" y={lDomain[1]} stroke="#000" strokeWidth={SPINE} strokeLinecap="square" />
        {legend && (
          <Legend layout="vertical" align="center" verticalAlign="middle"
            wrapperStyle={{ position: 'absolute', left: legend.x - 4 - left, top: legend.y - 4 - top, width: legend.w + 8, height: legend.h + 8, lineHeight: 0 }}
            content={() => <LegendBox w={legend.w} h={legend.h} items={legend.items} />} />
        )}
      </LineChart>
    </div>
  );
}

function Sub2() {
  return <tspan fontSize={35} dy={8}>2</tspan>;
}

export default function App() {
  const aSeries: Series[] = [
    { name: 'Air temperature', data: zip(A_AIR_T, A_AIR_V), color: BLUE, axis: 'left' },
    { name: 'Surface temperature', data: zip(A_SURF_T, A_SURF_V), color: ORANGE, axis: 'left' },
    { name: 'Humidity', data: zip(A_HUM_T, A_HUM_V), color: GREEN, axis: 'right' },
  ];
  const bSeries: Series[] = [
    { name: 'Air temperature', data: zip(B_AIR_T, B_AIR_V), color: BLUE, axis: 'left' },
    { name: 'Surface temperature', data: zip(B_SURF_T, B_SURF_V), color: ORANGE, axis: 'left' },
    { name: 'Humidity', data: zip(B_HUM_T, B_HUM_V), color: GREEN, axis: 'right' },
  ];
  const cSeries: Series[] = [
    { name: 'Pressure', data: zip(C_PRES_T, C_PRES_V), color: BLUE, axis: 'left' },
    { name: 'CO2 concentration', data: zip(C_CO2_T, C_CO2_V), color: ORANGE, axis: 'right' },
  ];
  const dSeries: Series[] = [
    { name: 'Pressure', data: zip(D_PRES_T, D_PRES_V), color: BLUE, axis: 'left' },
    { name: 'CO2 concentration', data: zip(D_CO2_T, D_CO2_V), color: ORANGE, axis: 'right' },
  ];

  const legendB = {
    x: 1311, y: 27.3, w: 510, h: 360.7,
    items: [
      { color: BLUE, lines: LEGEND_B[0], y: 77.7, baselines: [61, 119.4] },
      { color: ORANGE, lines: LEGEND_B[1], y: 211.7, baselines: [195.4, 253.7] },
      { color: GREEN, lines: LEGEND_B[2], y: 311.7, baselines: [330] },
    ],
  };
  const legendD = {
    x: 1277, y: 1034.4, w: 544, h: 225.4,
    items: [
      { color: BLUE, lines: ['Pressure'], y: 40.9, baselines: [59.3] },
      { color: ORANGE, lines: [<>CO<Sub2 /></>, 'concentration'], y: 152.4, baselines: [136.4, 193.9] },
    ],
  };

  const yMidT = (ROWS.T.y0 + ROWS.T.y1) / 2;
  const yMidB = (ROWS.B.y0 + ROWS.B.y1) / 2;
  const txt = { fontSize: 50, fontFamily: FONT, fill: '#000' };

  return (
    <div style={{ position: 'relative', width: 2067, height: 2085, background: '#fff', overflow: 'hidden', fontFamily: FONT }}>
      <style>{'body{margin:0;background:#fff;}'}</style>
      <Panel col={COLS.L} row={ROWS.T} xDomain={X_DOMAIN_LEFT} xTicks={X_TICKS_LEFT} showX={false}
        lDomain={TEMP_DOMAIN} lTicks={TEMP_TICKS} rDomain={HUM_DOMAIN} rTicks={HUM_TICKS} series={aSeries} />
      <Panel col={COLS.R} row={ROWS.T} xDomain={X_DOMAIN_RIGHT} xTicks={X_TICKS_RIGHT} showX={false}
        lDomain={TEMP_DOMAIN} lTicks={TEMP_TICKS} rDomain={HUM_DOMAIN} rTicks={HUM_TICKS} series={bSeries} legend={legendB} />
      <Panel col={COLS.L} row={ROWS.B} xDomain={X_DOMAIN_LEFT} xTicks={X_TICKS_LEFT} showX={true}
        lDomain={PRES_DOMAIN} lTicks={PRES_TICKS} rDomain={CO2_DOMAIN} rTicks={CO2_TICKS} series={cSeries} />
      <Panel col={COLS.R} row={ROWS.B} xDomain={X_DOMAIN_RIGHT} xTicks={X_TICKS_RIGHT} showX={true}
        lDomain={PRES_DOMAIN} lTicks={PRES_TICKS} rDomain={CO2_DOMAIN} rTicks={CO2_TICKS} series={dSeries} legend={legendD} />

      <svg width={2067} height={2085} style={{ position: 'absolute', left: 0, top: 0, pointerEvents: 'none' }}>
        {/* panel letters */}
        <text x={COLS.L.x0 + 14} y={ROWS.T.y0 + 54} {...txt}>(a)</text>
        <text x={COLS.R.x0 + 14} y={ROWS.T.y0 + 54} {...txt}>(b)</text>
        <text x={COLS.L.x0 + 14} y={ROWS.B.y0 + 54} {...txt}>(c)</text>
        <text x={COLS.R.x0 + 14} y={ROWS.B.y0 + 54} {...txt}>(d)</text>
        {/* axis titles */}
        {[COLS.L, COLS.R].map((c, i) => (
          <g key={'lt' + i}>
            <text transform={`translate(${c.x0 - 212},${yMidT}) rotate(-90)`} textAnchor="middle" {...txt}>Temperature (K)</text>
            <text transform={`translate(${c.x0 - 212},${yMidB}) rotate(-90)`} textAnchor="middle" {...txt}>Pressure (hPa)</text>
            <text transform={`translate(${c.x1 + 175},${yMidT}) rotate(-90)`} textAnchor="middle" {...txt}>Humidity (%)</text>
            <text transform={`translate(${c.x1 + 206.5},${yMidB}) rotate(-90)`} textAnchor="middle" {...txt}>
              CO<Sub2 /><tspan dy={-8}> concentration (ppm)</tspan>
            </text>
            <text x={(c.x0 + c.x1) / 2} y={2073.5} textAnchor="middle" {...txt}>Time (UTC)</text>
          </g>
        ))}
      </svg>
    </div>
  );
}
